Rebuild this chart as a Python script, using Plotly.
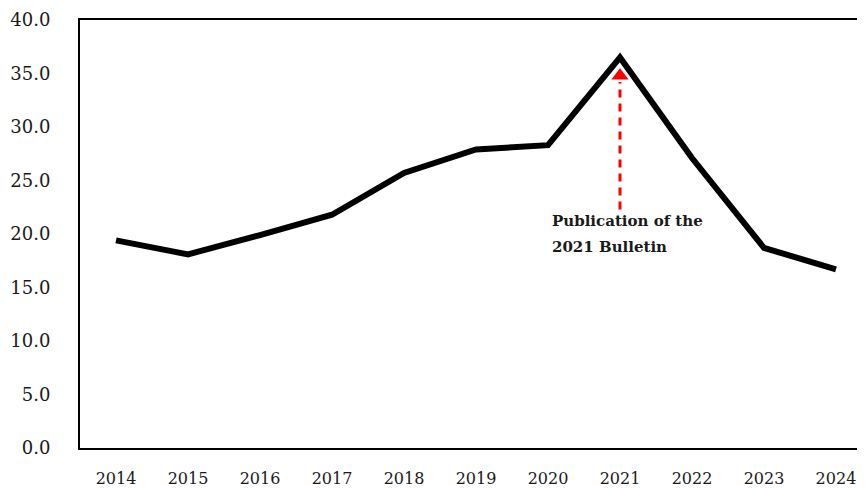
import plotly.graph_objects as go

years = ["2014", "2015", "2016", "2017", "2018", "2019", "2020", "2021", "2022", "2023", "2024"]
values = [19.4, 18.1, 19.9, 21.8, 25.7, 27.9, 28.3, 36.5, 27.1, 18.7, 16.7]
y_ticks = [0, 5, 10, 15, 20, 25, 30, 35, 40]
y_tick_labels = ["0.0", "5.0", "10.0", "15.0", "20.0", "25.0", "30.0", "35.0", "40.0"]
note_year = "2021"
note_lines = ["Publication of the", "2021 Bulletin"]
note_line_y = [21.2, 18.75]
arrow_bottom = 22.3
arrow_head = 34.8

note_idx = years.index(note_year)

fig = go.Figure()
fig.add_trace(go.Scatter(
    x=years, y=values, mode="lines",
    line=dict(color="black", width=6), showlegend=False, hoverinfo="skip"))

fig.add_trace(go.Scatter(
    x=[note_year, note_year], y=[arrow_bottom, arrow_head - 0.6], mode="lines",
    line=dict(color="#ff0000", width=3, dash="8px,6px"), showlegend=False, hoverinfo="skip"))
fig.add_trace(go.Scatter(
    x=[note_year], y=[arrow_head], mode="markers",
    marker=dict(symbol="triangle-up", size=15, color="#ff0000", line=dict(width=0)),
    showlegend=False, hoverinfo="skip"))

for txt, yy in zip(note_lines, note_line_y):
    fig.add_annotation(
        x=note_idx, y=yy, xref="x", yref="y", text="<b>" + txt + "</b>",
        showarrow=False, xanchor="left", yanchor="middle", align="left", xshift=-70,
        font=dict(family="DejaVu Serif", size=15, color="#1a1a1a"))

fig.update_layout(
    width=857, height=480,
    margin=dict(l=72, r=0, t=12, b=40),
    paper_bgcolor="white", plot_bgcolor="white",
    font=dict(family="DejaVu Serif", color="#1a1a1a"),
    xaxis=dict(
        type="category", range=[-0.5, 10.403],
        showline=True, linecolor="black", linewidth=2, mirror=True,
        showgrid=False, zeroline=False, ticks="",
        tickfont=dict(family="DejaVu Serif", size=16),
        ticklabelstandoff=15),
    yaxis=dict(
        range=[0, 40], tickvals=y_ticks, ticktext=y_tick_labels,
        showline=True, linecolor="black", linewidth=2,
        showgrid=False, zeroline=False, ticks="",
        tickfont=dict(family="DejaVu Serif", size=18),
        ticklabelstandoff=24),
)

fig.write_html("out.html")
